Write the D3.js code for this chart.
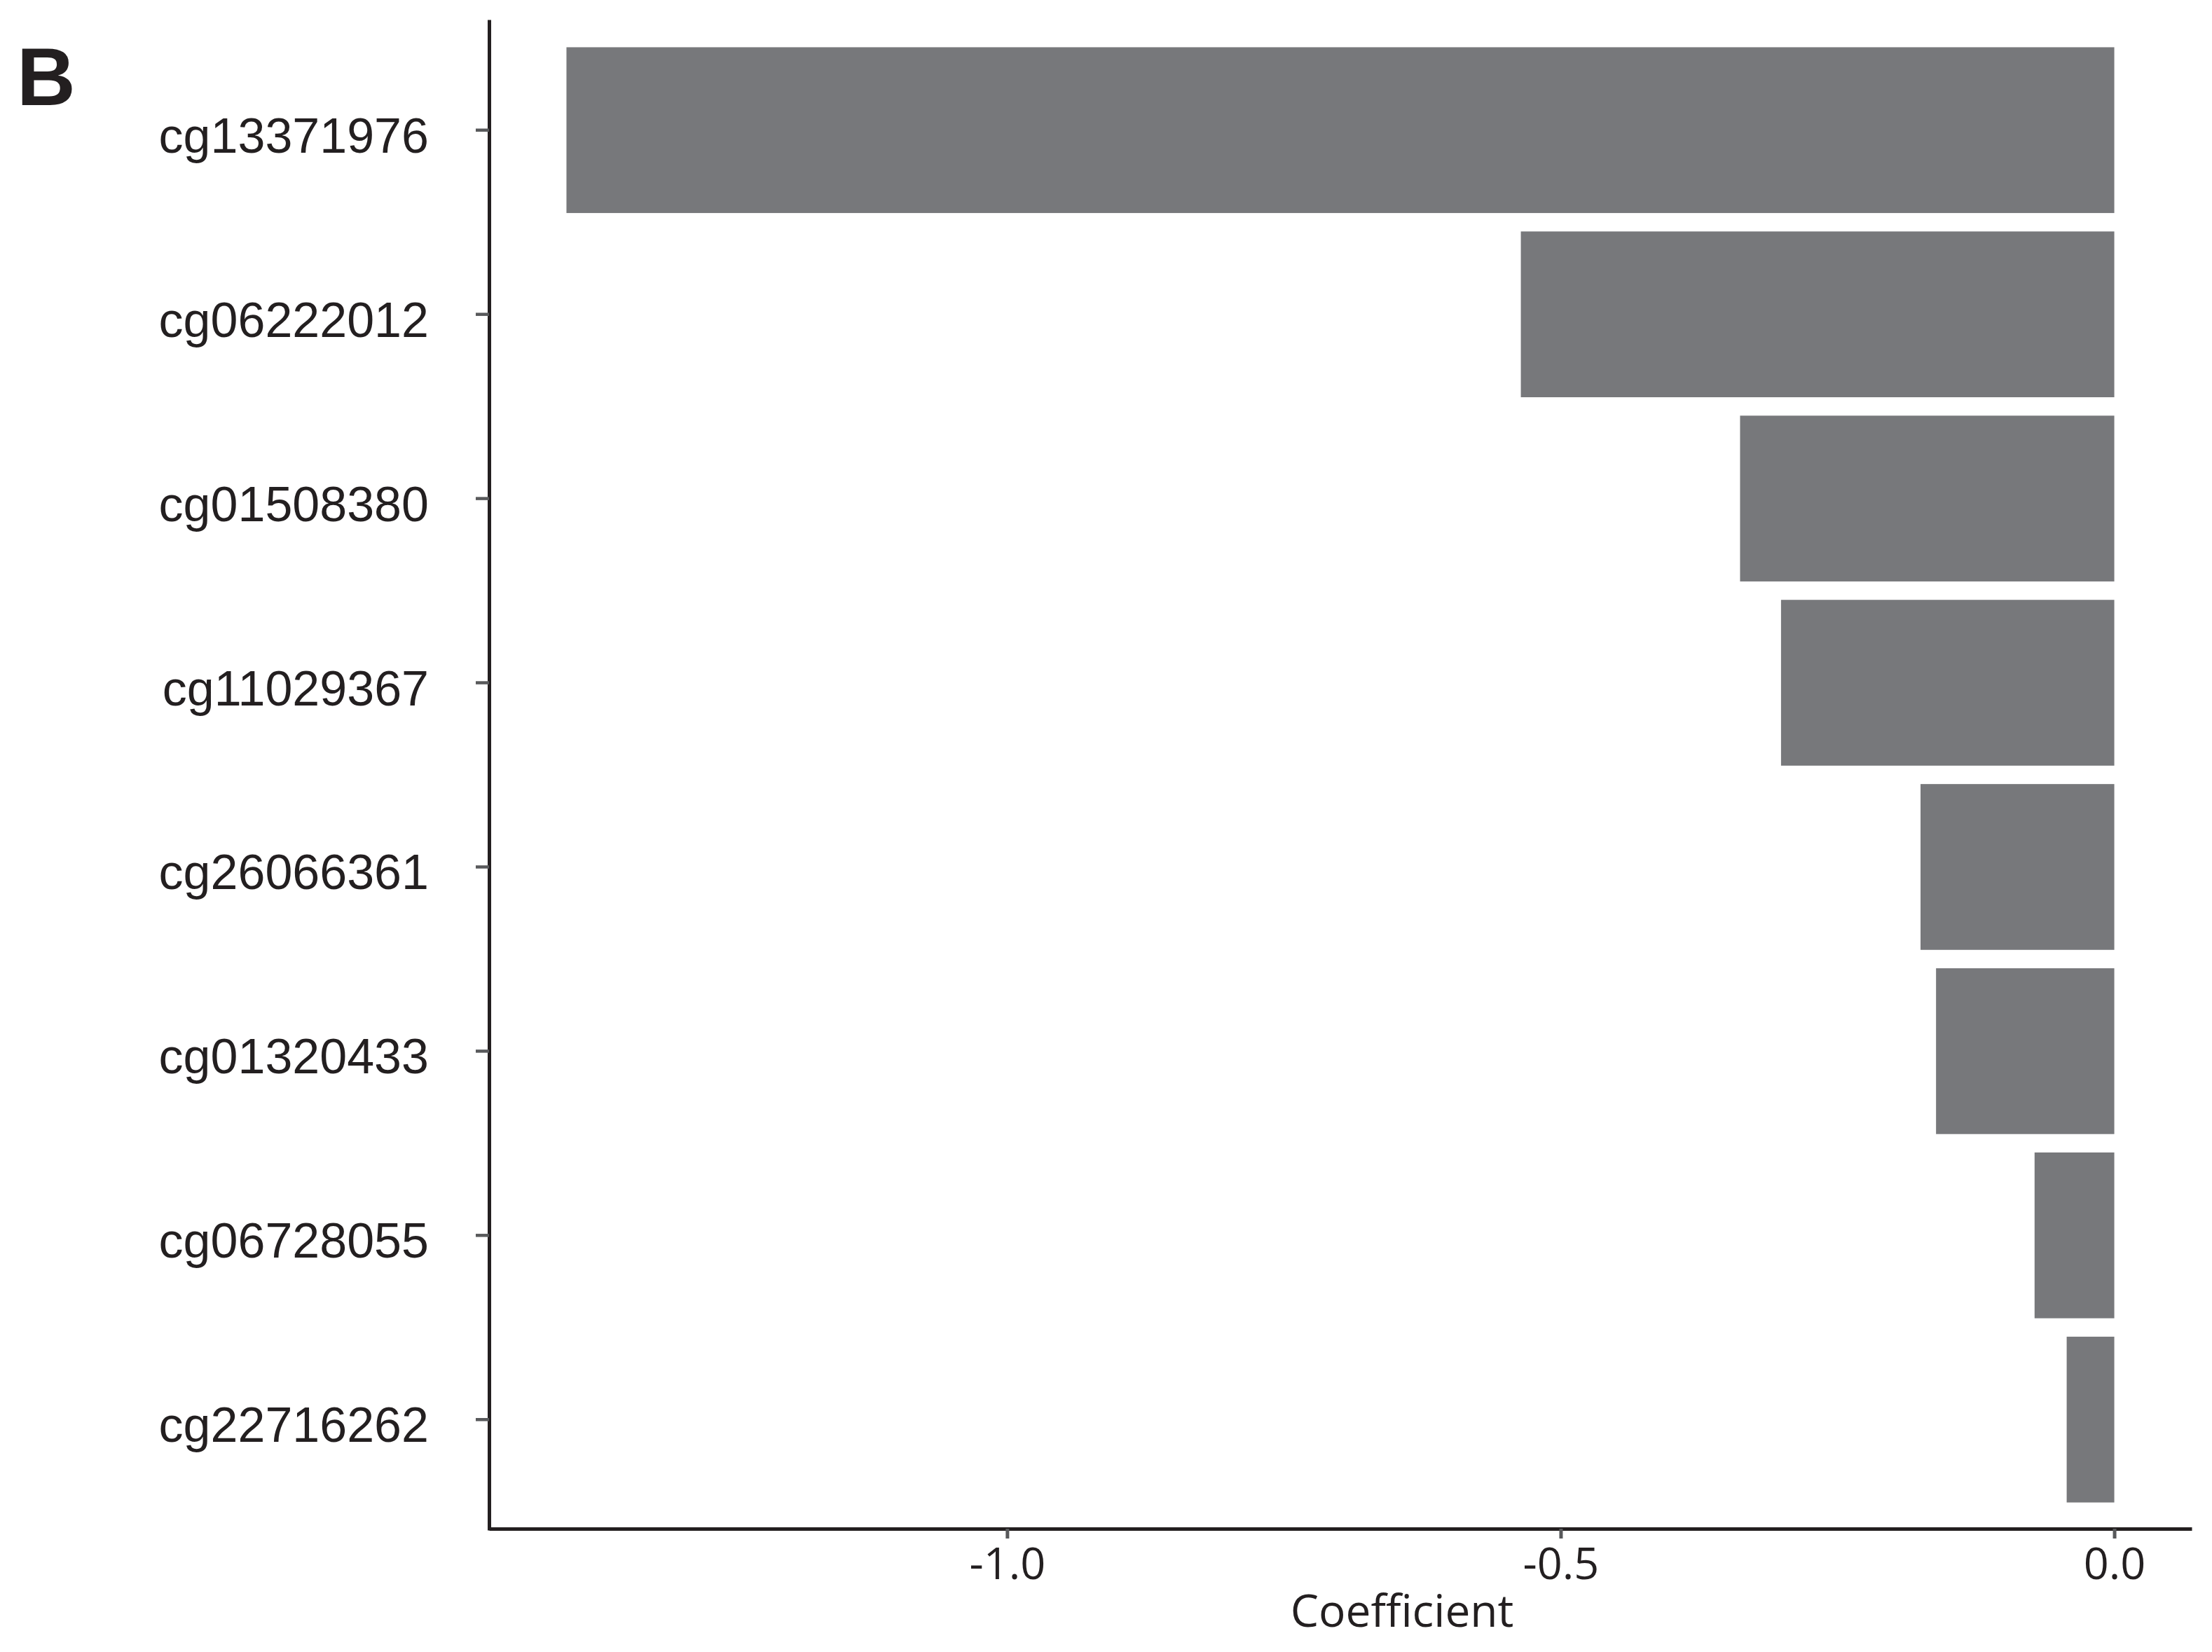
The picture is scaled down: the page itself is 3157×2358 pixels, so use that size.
<!DOCTYPE html>
<html>
<head>
<meta charset="utf-8">
<script src="https://cdn.jsdelivr.net/npm/d3@7"></script>
<style>
  body { margin: 0; background: #fff; }
  svg { display: block; }
</style>
</head>
<body>
<script>
// probes, top to bottom
var probes = ["cg13371976", "cg06222012", "cg01508380", "cg11029367",
              "cg26066361", "cg01320433", "cg06728055", "cg22716262"]
var coefs = [-1.398, -0.536, -0.338, -0.301, -0.175, -0.161, -0.072, -0.043]
var xTicks = [-1.0, -0.5, 0.0]
var panelLetter = "B"
var xTitle = "Coefficient"

var W = 3157, H = 2358
var pLeft = 698, pRight = 3128, pTop = 28, pBottom = 2184

var svg = d3.select("body").append("svg")
  .attr("width", W)
  .attr("height", H)

svg.append("rect").attr("width", W).attr("height", H).attr("fill", "#fff")

// ggplot-like 5% expansion of the data range
var lo = d3.min(coefs), hi = Math.max(0, d3.max(coefs))
var pad = (hi - lo) * 0.05
var x = d3.scaleLinear().domain([lo - pad, hi + pad]).range([pLeft, pRight])
var y = d3.scaleBand().domain(probes).range([pTop, pBottom])
  .paddingInner(0.1).paddingOuter(0.15)

var barColor = "#77787b"
var axisColor = "#231f20"
var tickColor = "#58595b"

// bars
svg.append("g").selectAll("rect").data(probes).enter().append("rect")
  .attr("x", function(d, i){return x(Math.min(0, coefs[i]))})
  .attr("y", function(d){return y(d)})
  .attr("width", function(d, i){return Math.abs(x(coefs[i]) - x(0))})
  .attr("height", y.bandwidth())
  .attr("fill", barColor)

// y axis
var yAxis = svg.append("g")
  .attr("transform", "translate(" + pLeft + ",0)")
  .call(d3.axisLeft(y).tickSize(19).tickSizeOuter(0))
yAxis.select(".domain").attr("stroke", axisColor).attr("stroke-width", 5)
yAxis.selectAll(".tick line").attr("stroke", tickColor).attr("stroke-width", 4.5)
yAxis.selectAll(".tick text")
  .attr("x", -86)
  .attr("dy", 0)
  .attr("y", 32)
  .attr("fill", axisColor)
  .style("font-family", "'Liberation Sans', Arial, sans-serif")
  .style("font-size", "70px")
  .attr("text-anchor", "end")

// x axis
var xAxis = svg.append("g")
  .attr("transform", "translate(0," + (pBottom - 2) + ")")
  .call(d3.axisBottom(x).tickValues(xTicks).tickFormat(d3.format(".1f"))
    .tickSize(14).tickSizeOuter(0))
xAxis.select(".domain").attr("stroke", axisColor).attr("stroke-width", 5)
xAxis.selectAll(".tick line").attr("stroke", tickColor).attr("stroke-width", 5)
xAxis.selectAll(".tick text")
  .attr("y", 72)
  .attr("dy", 0)
  .attr("fill", axisColor)
  .style("font-family", "'Open Sans', sans-serif")
  .style("font-size", "63px")
  .text(function(d){return d3.format(".1f")(d).replace("−", "-")})

// axis title
svg.append("text")
  .attr("x", 2001)
  .attr("y", 2322)
  .attr("text-anchor", "middle")
  .attr("fill", axisColor)
  .style("font-family", "'Open Sans', sans-serif")
  .style("font-size", "64px")
  .text(xTitle)

// panel letter
svg.append("text")
  .attr("x", 24)
  .attr("y", 150)
  .attr("fill", axisColor)
  .style("font-family", "'Liberation Sans', Arial, sans-serif")
  .style("font-weight", "bold")
  .style("font-size", "116px")
  .text(panelLetter)
</script>
</body>
</html>
